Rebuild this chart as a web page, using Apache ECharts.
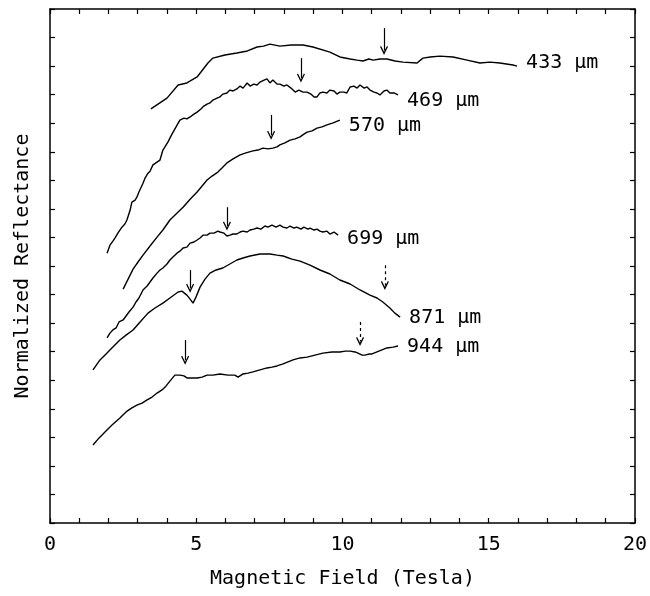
<!DOCTYPE html>
<html>
<head>
<meta charset="utf-8">
<script src="https://cdn.jsdelivr.net/npm/echarts@6/dist/echarts.min.js"></script>
<style>
  html, body { margin: 0; padding: 0; background: #fff; }
  #chart { width: 650px; height: 596px; }
</style>
</head>
<body>
<div id="chart"></div>
<script>
// field values (Tesla) and normalized reflectance
const curve433 = [
  [3.45, 14.50], [4.00, 14.88], [4.38, 15.34], [4.44, 15.30], [4.68, 15.41], [5.03, 15.62],
  [5.40, 16.11], [5.57, 16.28], [5.98, 16.39], [6.39, 16.46], [6.75, 16.53], [7.08, 16.67],
  [7.30, 16.70], [7.52, 16.77], [7.86, 16.70], [8.25, 16.74], [8.65, 16.74], [8.99, 16.67],
  [9.57, 16.49], [9.91, 16.32], [10.26, 16.25], [10.50, 16.21], [10.70, 16.18], [10.90, 16.25],
  [11.05, 16.21], [11.28, 16.25], [11.52, 16.25], [11.80, 16.18], [12.07, 16.14], [12.55, 16.11],
  [12.75, 16.28], [13.00, 16.32], [13.33, 16.35], [13.78, 16.32], [14.26, 16.21], [14.70, 16.11],
  [15.04, 16.14], [15.38, 16.11], [15.83, 16.04], [15.97, 16.00]
];
const curve469 = [
  [1.95, 9.45], [2.05, 9.73], [2.15, 9.87], [2.22, 9.98], [2.32, 10.15], [2.46, 10.36],
  [2.56, 10.47], [2.63, 10.61], [2.74, 10.96], [2.80, 11.24], [2.91, 11.31], [2.97, 11.41],
  [3.04, 11.59], [3.08, 11.66], [3.18, 11.90], [3.25, 12.08], [3.35, 12.25], [3.42, 12.32],
  [3.52, 12.54], [3.66, 12.64], [3.76, 12.71], [3.86, 13.06], [3.93, 13.17], [4.03, 13.34],
  [4.17, 13.62], [4.31, 13.87], [4.44, 14.11], [4.58, 14.18], [4.68, 14.15], [4.79, 14.22],
  [4.92, 14.32], [5.03, 14.39], [5.16, 14.50], [5.26, 14.60], [5.37, 14.67], [5.47, 14.71],
  [5.57, 14.81], [5.71, 14.88], [5.81, 14.92], [5.91, 15.02], [6.05, 15.06], [6.15, 15.16],
  [6.26, 15.13], [6.39, 15.20], [6.50, 15.30], [6.60, 15.23], [6.74, 15.41], [6.84, 15.30],
  [6.97, 15.37], [7.08, 15.34], [7.18, 15.44], [7.32, 15.51], [7.42, 15.55], [7.52, 15.41],
  [7.62, 15.51], [7.76, 15.37], [7.86, 15.37], [8.00, 15.30], [8.10, 15.34], [8.24, 15.23],
  [8.38, 15.09], [8.51, 15.16], [8.65, 15.09], [8.79, 15.09], [8.92, 15.02], [9.03, 14.92],
  [9.13, 14.92], [9.23, 15.06], [9.33, 15.09], [9.47, 15.06], [9.57, 15.16], [9.71, 15.13],
  [9.81, 15.02], [9.91, 15.09], [10.05, 15.09], [10.15, 15.06], [10.26, 15.27], [10.39, 15.30],
  [10.50, 15.23], [10.60, 15.34], [10.74, 15.23], [10.84, 15.27], [10.94, 15.16], [11.08, 15.09],
  [11.18, 15.06], [11.28, 14.99], [11.42, 15.13], [11.52, 15.16], [11.62, 15.06], [11.76, 15.06],
  [11.90, 14.99]
];
const curve570 = [
  [2.50, 8.19], [2.67, 8.54], [2.84, 8.89], [3.01, 9.14], [3.18, 9.38], [3.42, 9.70],
  [3.66, 10.01], [3.86, 10.26], [4.10, 10.61], [4.31, 10.82], [4.55, 11.06], [4.79, 11.34],
  [5.03, 11.59], [5.20, 11.80], [5.37, 12.01], [5.54, 12.15], [5.74, 12.29], [5.88, 12.43],
  [6.05, 12.61], [6.26, 12.75], [6.50, 12.89], [6.70, 12.96], [6.94, 13.03], [7.11, 13.06],
  [7.28, 13.13], [7.45, 13.10], [7.62, 13.13], [7.76, 13.17], [7.86, 13.24], [8.03, 13.31],
  [8.21, 13.41], [8.38, 13.45], [8.55, 13.52], [8.68, 13.62], [8.79, 13.69], [8.96, 13.73],
  [9.13, 13.83], [9.30, 13.87], [9.47, 13.94], [9.68, 14.01], [9.91, 14.11]
];
const curve699 = [
  [1.95, 6.48], [2.05, 6.65], [2.15, 6.76], [2.26, 6.83], [2.36, 7.04], [2.50, 7.11],
  [2.60, 7.25], [2.70, 7.39], [2.84, 7.56], [2.94, 7.74], [3.04, 7.88], [3.18, 8.16],
  [3.32, 8.30], [3.42, 8.44], [3.52, 8.58], [3.66, 8.75], [3.76, 8.86], [3.86, 8.93],
  [4.00, 9.07], [4.10, 9.21], [4.24, 9.35], [4.34, 9.45], [4.44, 9.52], [4.55, 9.63],
  [4.68, 9.66], [4.79, 9.80], [4.92, 9.84], [5.03, 9.91], [5.13, 9.98], [5.23, 10.08],
  [5.37, 10.08], [5.47, 10.15], [5.61, 10.15], [5.74, 10.22], [5.81, 10.19], [5.95, 10.15],
  [6.05, 10.05], [6.15, 10.08], [6.26, 10.12], [6.39, 10.12], [6.50, 10.19], [6.60, 10.22],
  [6.74, 10.19], [6.84, 10.26], [6.97, 10.29], [7.08, 10.33], [7.21, 10.29], [7.35, 10.40],
  [7.45, 10.36], [7.59, 10.43], [7.73, 10.36], [7.86, 10.43], [7.97, 10.36], [8.10, 10.33],
  [8.21, 10.40], [8.34, 10.33], [8.44, 10.36], [8.58, 10.29], [8.68, 10.36], [8.82, 10.29],
  [8.89, 10.33], [9.03, 10.26], [9.13, 10.29], [9.23, 10.22], [9.33, 10.19], [9.47, 10.22],
  [9.57, 10.12], [9.71, 10.19], [9.85, 10.08]
];
const curve871 = [
  [1.47, 5.36], [1.71, 5.71], [1.95, 5.95], [2.15, 6.16], [2.39, 6.41], [2.60, 6.58],
  [2.84, 6.76], [3.08, 7.04], [3.35, 7.35], [3.59, 7.53], [3.86, 7.70], [4.10, 7.88],
  [4.38, 8.09], [4.51, 8.12], [4.68, 7.98], [4.79, 7.84], [4.89, 7.70], [4.99, 7.91],
  [5.13, 8.26], [5.30, 8.54], [5.47, 8.75], [5.68, 8.86], [5.91, 8.93], [6.15, 9.07],
  [6.39, 9.21], [6.60, 9.28], [6.84, 9.35], [7.18, 9.42], [7.52, 9.42], [7.76, 9.38],
  [7.97, 9.35], [8.27, 9.24], [8.55, 9.17], [8.89, 9.03], [9.23, 8.86], [9.57, 8.72],
  [9.91, 8.51], [10.26, 8.37], [10.60, 8.16], [10.94, 7.98], [11.18, 7.88], [11.38, 7.74],
  [11.62, 7.53], [11.79, 7.35], [11.97, 7.21]
];
const curve944 = [
  [1.47, 2.73], [1.68, 2.98], [1.88, 3.19], [2.12, 3.43], [2.39, 3.68], [2.60, 3.89],
  [2.80, 4.03], [2.97, 4.13], [3.15, 4.20], [3.32, 4.31], [3.49, 4.41], [3.66, 4.55],
  [3.83, 4.66], [3.97, 4.80], [4.10, 4.97], [4.27, 5.18], [4.44, 5.18], [4.58, 5.15],
  [4.68, 5.08], [4.85, 5.08], [5.03, 5.08], [5.20, 5.11], [5.37, 5.18], [5.57, 5.18],
  [5.81, 5.22], [6.09, 5.18], [6.32, 5.18], [6.43, 5.11], [6.60, 5.22], [6.77, 5.25],
  [6.94, 5.29], [7.18, 5.36], [7.42, 5.43], [7.59, 5.46], [7.76, 5.50], [7.97, 5.57],
  [8.31, 5.71], [8.55, 5.78], [8.79, 5.81], [9.06, 5.88], [9.33, 5.95], [9.64, 5.99],
  [9.91, 5.99], [10.09, 6.02], [10.26, 6.02], [10.43, 5.99], [10.53, 5.95], [10.67, 5.88],
  [10.77, 5.88], [10.91, 5.92], [11.01, 5.92], [11.18, 5.99], [11.35, 6.06], [11.52, 6.13],
  [11.73, 6.16], [11.90, 6.20]
];

const curveNames = ['433 µm', '469 µm', '570 µm', '699 µm', '871 µm', '944 µm'];
const curveData = [curve433, curve469, curve570, curve699, curve871, curve944];

// arrows: [field, from, to, dashed]
const arrows433 = [[11.42, 17.33, 16.55, false]];
const arrows469 = [[8.58, 16.28, 15.58, false]];
const arrows570 = [[7.56, 14.29, 13.58, false]];
const arrows699 = [[6.05, 11.06, 10.40, false]];
const arrows871 = [[4.79, 8.86, 8.22, false], [11.45, 9.03, 8.32, true]];
const arrows944 = [[4.62, 6.41, 5.70, false], [10.60, 7.04, 6.36, true]];
const curveArrows = [arrows433, arrows469, arrows570, arrows699, arrows871, arrows944];

const xTicks = [0, 5, 10, 15, 20];

const monoFont = 'DejaVu Sans Mono';
// open "V" arrow head, tip up
const arrowHead = 'path://M5,0 L10,8.6 L8.7,9.4 L5,3.2 L1.3,9.4 L0,8.6 Z';

const myChart = echarts.init(document.getElementById('chart'));

const frameAxis = {
  type: 'value',
  min: 0,
  interval: 1,
  axisLine: { show: true, onZero: false, lineStyle: { color: '#000', width: 1.5 } },
  axisTick: { show: true, inside: true, length: 5, lineStyle: { color: '#000', width: 1.2 } },
  splitLine: { show: false },
};

const series = curveData.map((data, i) => ({
  name: curveNames[i],
  type: 'line',
  data: data,
  showSymbol: false,
  symbol: 'none',
  lineStyle: { color: '#000', width: 1.4 },
  endLabel: {
    show: true,
    formatter: '{a}',
    color: '#000',
    fontFamily: monoFont,
    fontSize: 20,
    distance: 9,
    offset: [0, [-3, 6, 6, 4, 1, 1][i]],
  },
  markLine: {
    silent: true,
    animation: false,
    symbol: ['none', arrowHead],
    symbolSize: [8, 9],
    label: { show: false },
    lineStyle: { color: '#000', width: 1.2, type: 'solid' },
    data: curveArrows[i].map((a) => [
      { coord: [a[0], a[1]], lineStyle: { type: a[3] ? [3, 3] : 'solid' } },
      { coord: [a[0], a[2]] },
    ]),
  },
}));

myChart.setOption({
  animation: false,
  backgroundColor: '#fff',
  textStyle: { fontFamily: monoFont },
  grid: { left: 50, right: 15, top: 9, bottom: 73 },
  xAxis: [
    {
      ...frameAxis,
      max: 20,
      position: 'bottom',
      name: 'Magnetic Field (Tesla)',
      nameLocation: 'middle',
      nameGap: 46,
      nameTextStyle: { color: '#000', fontSize: 20, fontFamily: monoFont },
      axisLabel: {
        color: '#000',
        fontSize: 20,
        fontFamily: monoFont,
        margin: 12,
        formatter: (v) => (xTicks.includes(v) ? String(v) : ''),
      },
    },
    {
      ...frameAxis,
      max: 20,
      position: 'top',
      axisLabel: { show: false },
    },
  ],
  yAxis: [
    {
      ...frameAxis,
      max: 18,
      position: 'left',
      name: 'Normalized Reflectance',
      nameLocation: 'middle',
      nameGap: 17,
      nameTextStyle: { color: '#000', fontSize: 20, fontFamily: monoFont },
      axisLabel: { show: false },
    },
    {
      ...frameAxis,
      max: 18,
      position: 'right',
      axisLabel: { show: false },
    },
  ],
  series: series,
});
</script>
</body>
</html>
